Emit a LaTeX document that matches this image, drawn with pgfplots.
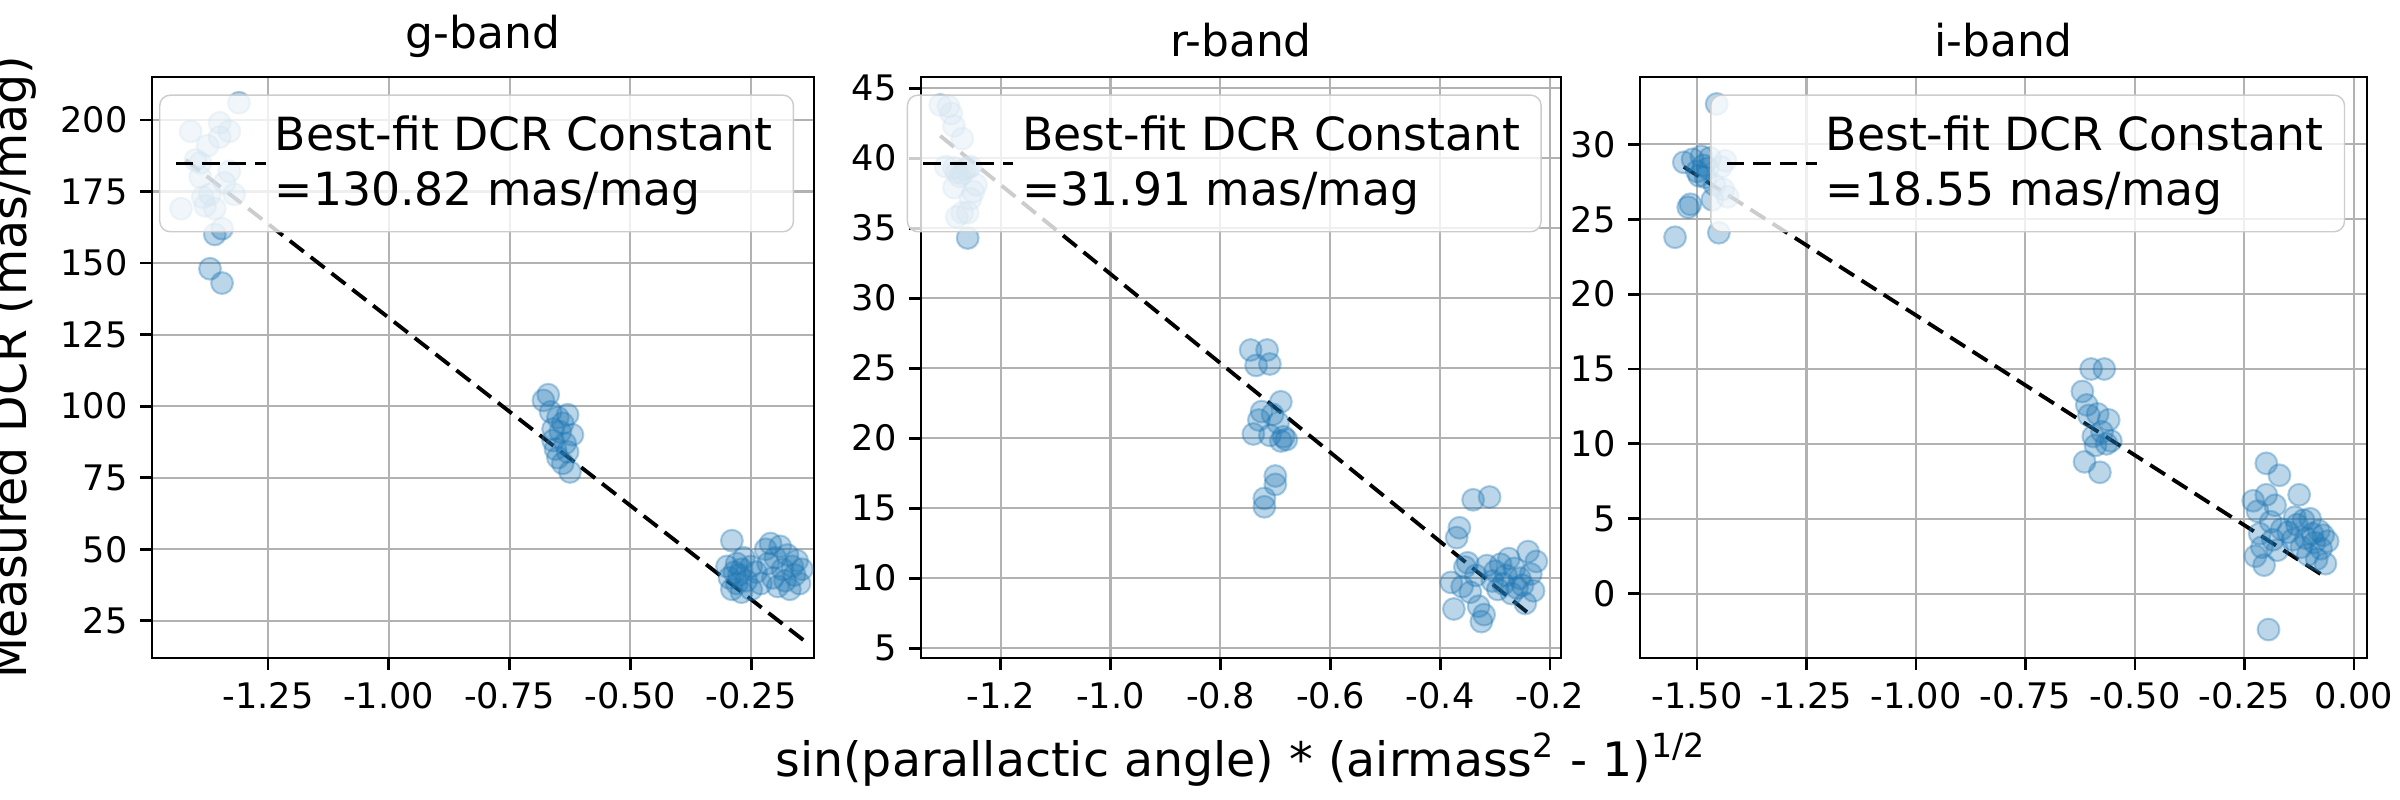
\documentclass[border=0pt]{standalone}
\usepackage{pgfplots}
\pgfplotsset{compat=1.18}
\usepackage{fontspec}
\setmainfont{DejaVu Sans}
\definecolor{mplblue}{HTML}{1F77B4}
\pgfplotsset{
  base/.style={scale only axis, height=5.81cm, grid=major,
    grid style={color=black!30, line width=0.6pt},
    axis line style={line width=0.8pt},
    tick style={black, line width=0.8pt}, tick align=outside, tickwidth=0.12cm,
    xtick pos=bottom, ytick pos=left,
    ticklabel style={font=\fontsize{10}{12}\selectfont},
    /pgf/number format/assume math mode=true,
    title style={font=\fontsize{12.5}{15}\selectfont, yshift=-4pt},
    legend pos=north east,
    legend style={font=\fontsize{13}{15.5}\selectfont, draw=black!20, rounded corners=3pt,
      fill=white, fill opacity=0.8, text opacity=1, cells={align=left}, inner sep=4pt},
    legend image code/.code={\draw[#1] (0cm,0cm) -- (0.9cm,0cm);},
    legend cell align=left},
  pts/.style={only marks, mark=*, mark size=3.1pt,
    mark options={fill=mplblue, fill opacity=0.3, draw=mplblue, draw opacity=0.35, line width=0.6pt}},
  fit/.style={black, line width=1.1pt, dash pattern=on 5pt off 2.5pt}
}
\begin{document}
\begin{tikzpicture}[x=1cm,y=1cm]
\path[use as bounding box] (0,0) rectangle (24,8);
\begin{axis}[base, at={(1.52cm,1.42cm)}, width=6.62cm,
  title={g-band}, ylabel={Measured DCR (mas/mag)},
  ylabel style={font=\fontsize{13.5}{16}\selectfont},
  xmin=-1.49, xmax=-0.12, ymin=12, ymax=215,
  xtick={-1.25,-1,-0.75,-0.5,-0.25}, ytick={25,50,...,200},
  xticklabel style={/pgf/number format/.cd, fixed, fixed zerofill, precision=2}]
\addplot[pts, forget plot] coordinates {
(-1.43,169)(-1.41,196)(-1.40,186)(-1.39,185)(-1.39,180)(-1.385,173)(-1.38,170)(-1.375,191)
(-1.37,148)(-1.37,174)(-1.36,160)(-1.36,169)(-1.35,199)(-1.35,194)(-1.345,143)(-1.345,162)
(-1.34,178)(-1.33,182)(-1.33,196)(-1.31,206)(-1.32,174)
(-0.68,102)(-0.67,104)(-0.665,98)(-0.66,92)(-0.66,88)(-0.655,85)(-0.65,96)(-0.65,82)
(-0.645,91)(-0.64,94)(-0.64,80)(-0.635,87)(-0.63,97)(-0.63,84)(-0.625,77)(-0.62,90)
(-0.30,44)(-0.295,40)(-0.29,53)(-0.29,36)(-0.285,42)(-0.28,45)(-0.28,38)(-0.275,41)
(-0.27,43)(-0.27,35)(-0.265,47)(-0.26,39)(-0.25,44)(-0.25,36)(-0.24,42)(-0.23,38)
(-0.22,50)(-0.215,45)(-0.21,52)(-0.205,40)(-0.20,47)(-0.195,37)(-0.19,51)(-0.185,43)
(-0.18,39)(-0.175,48)(-0.17,36)(-0.165,44)(-0.16,41)(-0.155,46)(-0.15,38)(-0.145,43)
};
\addplot[fit] coordinates {(-1.42,186)(-0.14,18)};
\addlegendentry{Best-fit DCR Constant\\=130.82 mas/mag}
\end{axis}
\begin{axis}[base, at={(9.21cm,1.42cm)}, width=6.4cm,
  title={r-band},
  xlabel={sin(parallactic angle) * (airmass\textsuperscript{2} - 1)\textsuperscript{1/2}},
  xlabel style={font=\fontsize{13.5}{16}\selectfont},
  xmin=-1.345, xmax=-0.18, ymin=4.3, ymax=45.8,
  xtick={-1.2,-1,-0.8,-0.6,-0.4,-0.2}, ytick={5,10,...,45},
  xticklabel style={/pgf/number format/.cd, fixed, fixed zerofill, precision=1}]
\addplot[pts, forget plot] coordinates {
(-1.31,43.8)(-1.295,43.7)(-1.29,43.2)(-1.285,42.3)(-1.27,41.4)(-1.30,39.4)(-1.285,39.3)
(-1.28,39.0)(-1.275,38.7)(-1.27,38.9)(-1.265,39.2)(-1.26,39.3)(-1.255,39.4)(-1.285,37.9)
(-1.28,35.8)(-1.27,36.1)(-1.26,36.1)(-1.255,37.1)(-1.25,37.6)(-1.245,38.1)(-1.26,34.3)
(-0.745,26.3)(-0.74,20.3)(-0.735,25.2)(-0.73,21.3)(-0.725,21.9)(-0.72,15.1)(-0.72,15.7)
(-0.715,26.3)(-0.71,25.3)(-0.71,20.2)(-0.705,21.7)(-0.70,17.3)(-0.70,16.7)(-0.695,21.1)
(-0.69,22.6)(-0.69,19.8)(-0.685,20.1)(-0.68,19.9)
(-0.38,9.7)(-0.375,7.8)(-0.37,12.9)(-0.365,13.6)(-0.36,9.4)(-0.355,10.8)(-0.35,11.1)
(-0.345,9.0)(-0.34,15.6)(-0.335,10.2)(-0.33,8.0)(-0.325,6.9)(-0.32,7.4)(-0.315,10.9)
(-0.31,15.8)(-0.305,9.8)(-0.30,10.5)(-0.295,9.2)(-0.29,11.0)(-0.285,9.6)(-0.28,10.2)
(-0.275,11.4)(-0.27,8.9)(-0.265,10.7)(-0.26,9.3)(-0.255,10.0)(-0.25,9.5)(-0.245,8.2)
(-0.24,11.9)(-0.235,10.3)(-0.23,9.1)(-0.225,11.2)
};
\addplot[fit] coordinates {(-1.31,41.6)(-0.23,7.2)};
\addlegendentry{Best-fit DCR Constant\\=31.91 mas/mag}
\end{axis}
\begin{axis}[base, at={(16.4cm,1.42cm)}, width=7.27cm,
  title={i-band},
  xmin=-1.63, xmax=0.03, ymin=-4.3, ymax=34.5,
  xtick={-1.5,-1.25,-1,-0.75,-0.5,-0.25,0}, ytick={0,5,...,30},
  xticklabel style={/pgf/number format/.cd, fixed, fixed zerofill, precision=2}]
\addplot[pts, forget plot] coordinates {
(-1.55,23.8)(-1.53,28.8)(-1.52,25.8)(-1.515,26.0)(-1.51,29.0)(-1.50,28.2)(-1.495,27.9)
(-1.49,29.2)(-1.485,28.6)(-1.48,27.8)(-1.475,28.4)(-1.47,29.1)(-1.465,26.3)(-1.46,27.3)
(-1.455,32.7)(-1.45,24.1)(-1.445,28.5)(-1.44,27.0)(-1.435,28.9)(-1.43,26.5)
(-0.62,13.5)(-0.615,8.8)(-0.61,12.6)(-0.605,11.9)(-0.60,15.0)(-0.595,10.5)(-0.59,9.9)
(-0.585,12.0)(-0.58,8.1)(-0.575,10.8)(-0.57,15.0)(-0.565,10.0)(-0.56,11.6)(-0.555,10.2)
(-0.23,6.2)(-0.225,2.5)(-0.22,5.5)(-0.215,4.0)(-0.21,3.1)(-0.205,1.9)(-0.20,6.6)(-0.20,8.7)
(-0.195,-2.4)(-0.19,4.8)(-0.185,3.6)(-0.18,5.9)(-0.175,2.9)(-0.17,7.9)(-0.165,4.3)
(-0.15,4.1)(-0.14,3.6)(-0.135,5.1)(-0.13,4.6)(-0.125,6.6)(-0.12,3.1)(-0.115,4.9)
(-0.11,3.7)(-0.105,2.6)(-0.10,5.0)(-0.095,4.0)(-0.09,3.4)(-0.085,2.3)(-0.08,4.2)
(-0.075,3.0)(-0.07,3.9)(-0.065,2.0)(-0.06,3.5)
};
\addplot[fit] coordinates {(-1.53,28.5)(-0.07,1.2)};
\addlegendentry{Best-fit DCR Constant\\=18.55 mas/mag}
\end{axis}
\end{tikzpicture}
\end{document}
